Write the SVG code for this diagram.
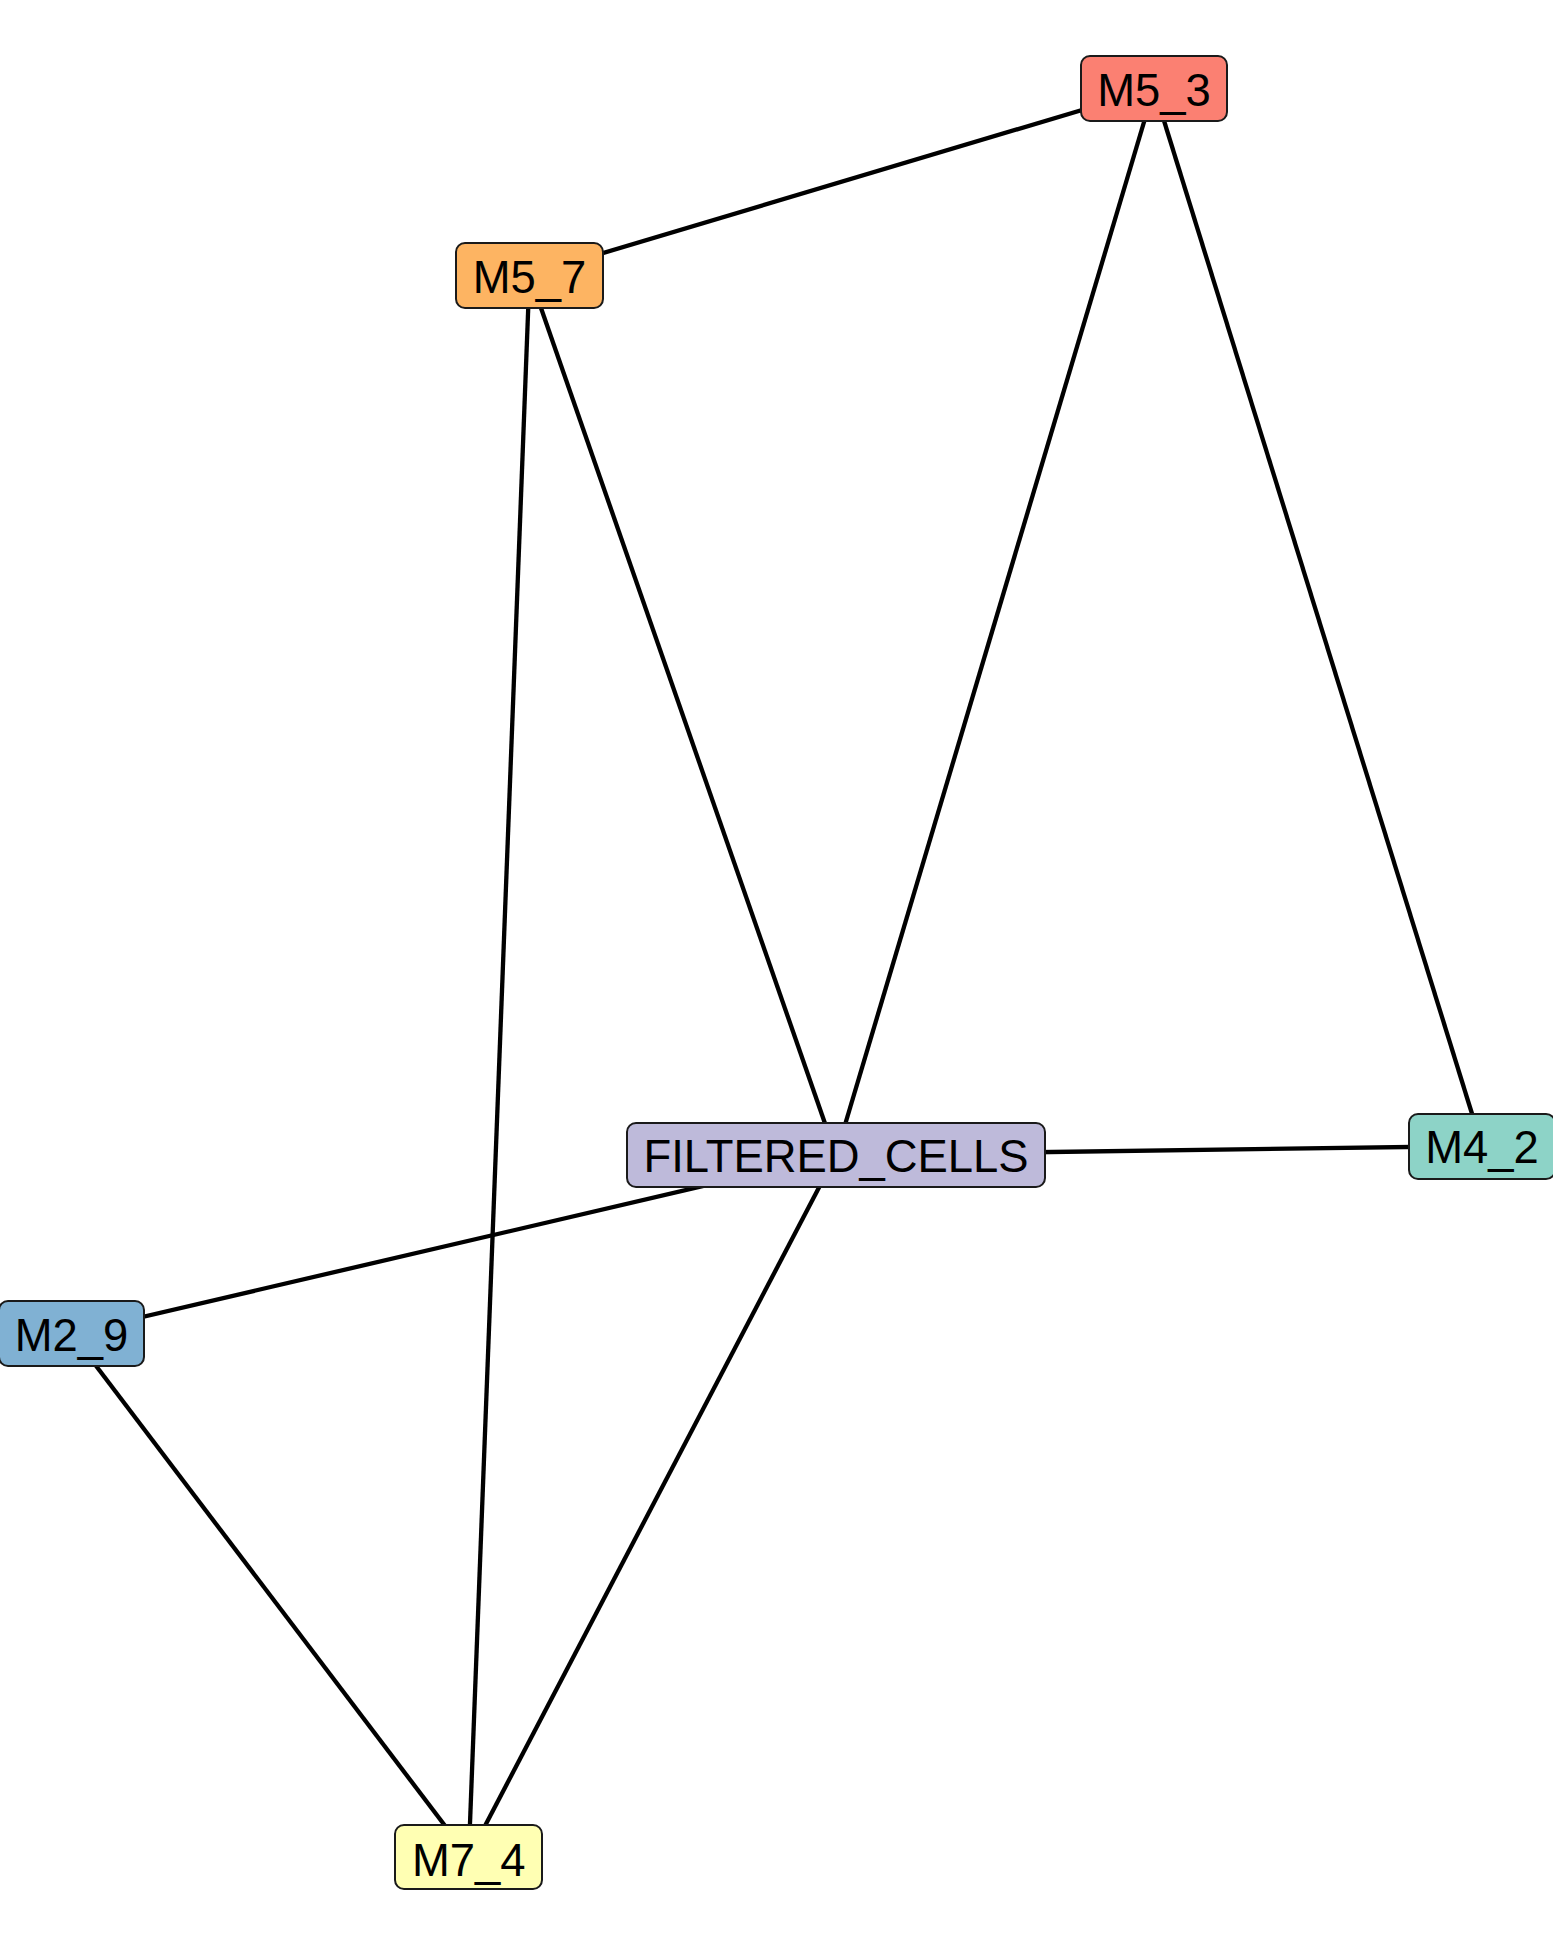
<svg xmlns="http://www.w3.org/2000/svg" width="1553" height="1946" viewBox="0 0 1553 1946">
<style>
.e{stroke:#000;stroke-width:4.3;fill:none}
.n rect{stroke:#1a1a1a;stroke-width:2}
.n text{font-family:"Liberation Sans",Arial,sans-serif;font-size:45.4px;fill:#000;text-anchor:middle}
</style>
<rect width="1553" height="1946" fill="#fff"/>
<g id="edges">
<line class="e" x1="1154" y1="88.5" x2="529.5" y2="275"/>
<line class="e" x1="1154" y1="88.5" x2="836" y2="1155"/>
<line class="e" x1="1154" y1="88.5" x2="1482" y2="1146"/>
<line class="e" x1="529.5" y1="275" x2="836" y2="1155"/>
<line class="e" x1="529.5" y1="275" x2="468.7" y2="1857"/>
<line class="e" x1="836" y1="1155" x2="1482" y2="1146"/>
<line class="e" x1="836" y1="1155" x2="71.5" y2="1333.5"/>
<line class="e" x1="836" y1="1155" x2="468.7" y2="1857"/>
<line class="e" x1="71.5" y1="1333.5" x2="468.7" y2="1857"/>
</g>
<g id="M5_3" class="n"><rect x="1081" y="56" width="146" height="65" rx="9" fill="#FB8072"/><text x="1154" y="106">M5_3</text></g>
<g id="M5_7" class="n"><rect x="456" y="243" width="147" height="65" rx="9" fill="#FDB462"/><text x="529.5" y="293">M5_7</text></g>
<g id="FILTERED_CELLS" class="n"><rect x="627" y="1123" width="418" height="64" rx="9" fill="#BEBADA"/><text x="836" y="1172">FILTERED_CELLS</text></g>
<g id="M4_2" class="n"><rect x="1409" y="1114" width="146" height="65" rx="9" fill="#8DD3C7"/><text x="1482" y="1163">M4_2</text></g>
<g id="M2_9" class="n"><rect x="-1" y="1301" width="145" height="65" rx="9" fill="#80B1D3"/><text x="71.5" y="1351">M2_9</text></g>
<g id="M7_4" class="n"><rect x="395" y="1825" width="147" height="64" rx="9" fill="#FFFFB3"/><text x="468.7" y="1876">M7_4</text></g>
</svg>
